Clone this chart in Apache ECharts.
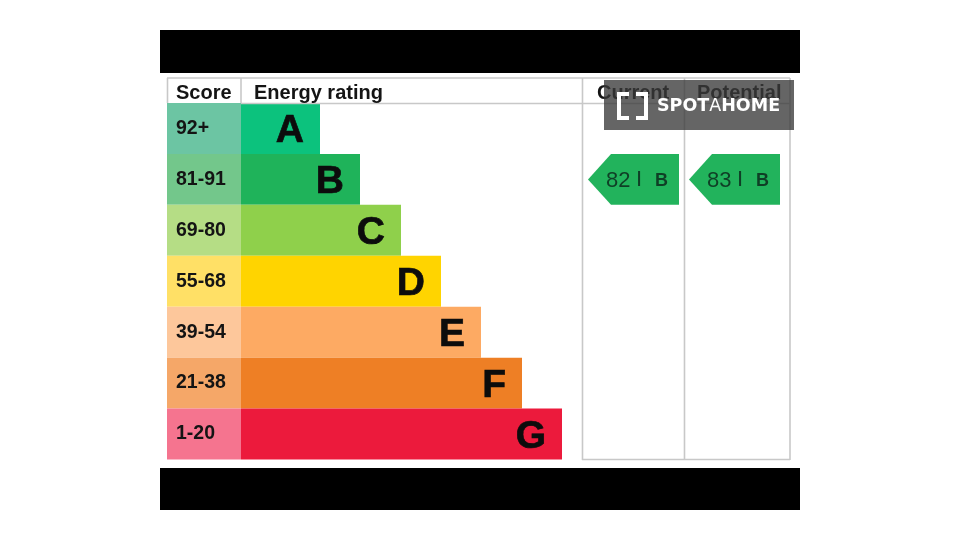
<!DOCTYPE html>
<html>
<head>
<meta charset="utf-8">
<style>html,body{margin:0;padding:0;background:#fff}#c{width:960px;height:540px}</style>
<script src="https://cdn.jsdelivr.net/npm/echarts@6/dist/echarts.min.js"></script>
</head>
<body>
<div id="c"></div>
<script>
const ratings = ['A','B','C','D','E','F','G'];
const scoreLabels = ['92+','81-91','69-80','55-68','39-54','21-38','1-20'];
const scoreBand = [74,74,74,74,74,74,74];
const ratingBar = [79,119,160,200,240,281,321];
const barColors = ['#0cc27d','#1fb35a','#8fd04b','#ffd400','#fdaa63','#ee7f25','#ec1a3c'];
const scoreColors = ['#6cc5a3','#73c78b','#b5dd85','#ffe066','#fdc79b','#f5a768','#f5748f'];
const columnNames = ['Current','Potential'];
const columnScores = [82,83];
const columnRating = ['B','B'];
const arrowRight = [512,613];
const FONT = '"Liberation Sans", Arial, sans-serif';
const INK = '#141414';
const GRID_LINE = '#c8c8c8';

const chart = echarts.init(document.getElementById('c'), null, {renderer:'canvas'});

function line(x1,y1,x2,y2){
  return {type:'line',z:5,shape:{x1,y1,x2,y2},style:{stroke:GRID_LINE,lineWidth:1.6}};
}
function head(text,x,y){
  return {type:'text',z:6,x,y,style:{text,fill:INK,font:'bold 20px '+FONT,textVerticalAlign:'middle'}};
}
function renderArrow(params, api){
  const right = api.value(0), cat = api.value(1);
  const c = api.coord([right, cat]);
  const h = api.size([0,1])[1];
  const top = c[1]-h/2, bot = c[1]+h/2, xr = c[0], xl = xr-91, xs = xl+23;
  const y = c[1]+1.5;
  const i = params.dataIndex;
  return {type:'group',children:[
    {type:'polygon',shape:{points:[[xl,c[1]],[xs,top],[xr,top],[xr,bot],[xs,bot]]},style:{fill:'#22b35c'}},
    {type:'text',style:{x:xl+18,y,text:String(columnScores[i]),fill:'#0f3f26',font:'22px '+FONT,textVerticalAlign:'middle'}},
    {type:'text',style:{x:xl+48,y:y-1,text:'I',fill:'#0f3f26',font:'22px '+FONT,textVerticalAlign:'middle'}},
    {type:'text',style:{x:xl+67,y:y+0.5,text:columnRating[i],fill:'#0f3f26',font:'bold 18px '+FONT,textVerticalAlign:'middle'}}
  ]};
}

chart.setOption({
  animation:false,
  backgroundColor:'#fff',
  grid:{left:167,top:103,width:623,height:356.5,containLabel:false},
  xAxis:{type:'value',min:0,max:623,show:false},
  yAxis:{type:'category',data:ratings,inverse:true,show:false},
  series:[
    {type:'bar',stack:'r',barWidth:'100%',data:scoreBand.map((v,i)=>({value:v,itemStyle:{color:scoreColors[i]},
      label:{formatter:scoreLabels[i]}})),
     label:{show:true,position:'insideLeft',distance:9,color:INK,fontFamily:FONT,fontWeight:'bold',fontSize:19.5}},
    {type:'bar',stack:'r',barWidth:'100%',data:ratingBar.map((v,i)=>({value:v,itemStyle:{color:barColors[i]},
      label:{formatter:ratings[i]}})),
     label:{show:true,position:'insideRight',distance:16,offset:[0,3],color:'#0c0c0c',textBorderColor:'#0c0c0c',textBorderWidth:0.7,fontFamily:FONT,fontWeight:'bold',fontSize:39}},
    {type:'custom',renderItem:renderArrow,z:4,coordinateSystem:'cartesian2d',
     encode:{x:0,y:1},data:arrowRight.map((r,i)=>[r,'B'])}
  ],
  graphic:[
    {type:'rect',z:20,shape:{x:160,y:30,width:640,height:43},style:{fill:'#000'}},
    {type:'rect',z:20,shape:{x:160,y:468,width:640,height:42},style:{fill:'#000'}},
    line(167,78,790,78), line(241,103.5,790,103.5), line(582,459.5,790,459.5),
    line(167.5,78,167.5,103), line(241,78,241,103),
    line(582.5,78,582.5,460), line(684.5,78,684.5,460), line(790,78,790,460),
    head('Score',176,93), head('Energy rating',254,93),
    head(columnNames[0],597,93), head(columnNames[1],697,93),
    {type:'rect',z:30,shape:{x:604,y:80,width:190,height:50},style:{fill:'rgba(58,58,58,0.78)'}},
    {type:'polyline',z:31,shape:{points:[[629,94],[619,94],[619,118],[629,118]]},style:{stroke:'#fff',lineWidth:4,fill:null}},
    {type:'polyline',z:31,shape:{points:[[636,94],[646,94],[646,118],[636,118]]},style:{stroke:'#fff',lineWidth:4,fill:null}},
    {type:'text',z:31,x:657,y:106,style:{text:'{b|SPOT}{l|A}{b|HOME}',fill:'#fff',textVerticalAlign:'middle',
      rich:{b:{fill:'#fff',fontFamily:'"DejaVu Sans"',fontWeight:'bold',fontSize:17.5},
            l:{fill:'#fff',fontFamily:'"DejaVu Sans"',fontWeight:'normal',fontSize:17.5}}}}
  ]
});
</script>
</body>
</html>
